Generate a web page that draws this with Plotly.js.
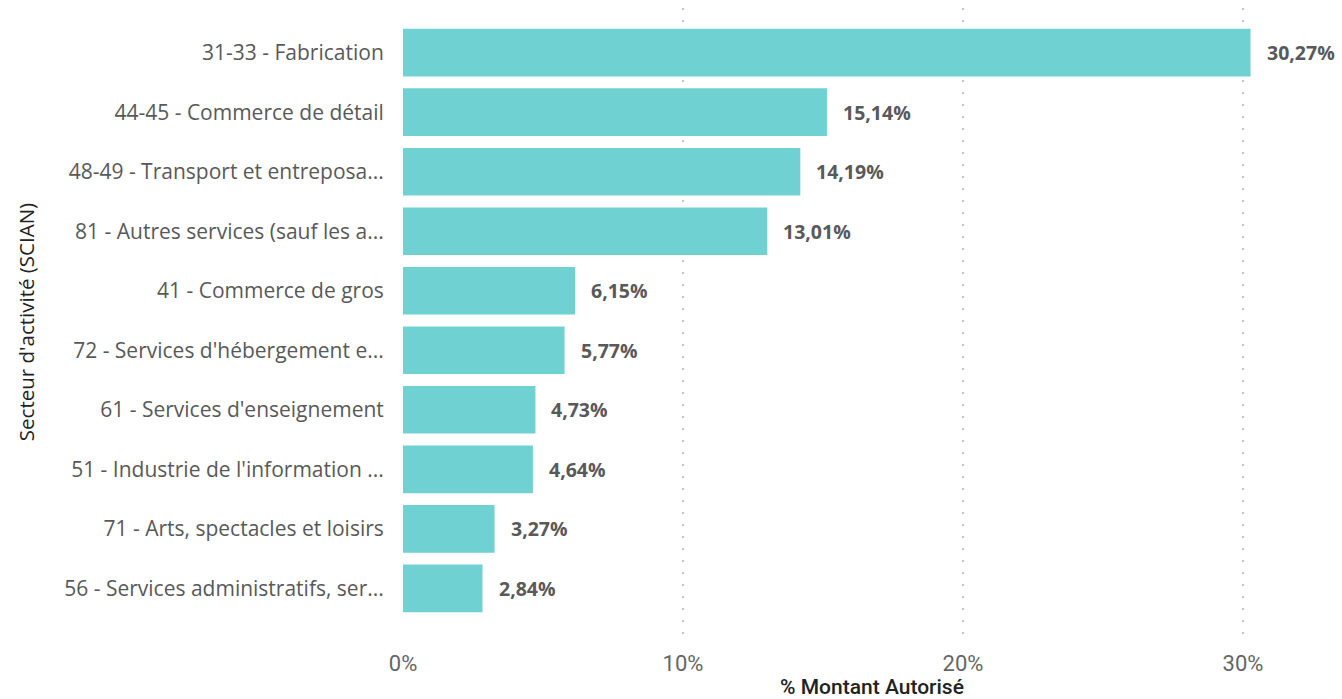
<!DOCTYPE html>
<html>
<head>
<meta charset="utf-8">
<script src="https://cdn.plot.ly/plotly-3.0.1.min.js"></script>
<style>html,body{margin:0;padding:0;background:#fff;}#chart{width:1342px;height:699px;}</style>
</head>
<body>
<div id="chart"></div>
<script>
const categories = [
  "31-33 - Fabrication",
  "44-45 - Commerce de détail",
  "48-49 - Transport et entreposa...",
  "81 - Autres services (sauf les a...",
  "41 - Commerce de gros",
  "72 - Services d'hébergement e...",
  "61 - Services d'enseignement",
  "51 - Industrie de l'information ...",
  "71 - Arts, spectacles et loisirs",
  "56 - Services administratifs, ser..."
];
const values = [30.27, 15.14, 14.19, 13.01, 6.15, 5.77, 4.73, 4.64, 3.27, 2.84];
const valueLabels = ["30,27%", "15,14%", "14,19%", "13,01%", "6,15%", "5,77%", "4,73%", "4,64%", "3,27%", "2,84%"];
const tickValues = [0, 10, 20, 30];
const tickLabels = ["0%", "10%", "20%", "30%"];

const trace = {
  type: 'bar',
  orientation: 'h',
  x: values,
  y: categories,
  marker: {color: '#6FD1D2'},
  hoverinfo: 'none'
};

const annotations = values.map((v, i) => ({
  x: v, y: categories[i], xref: 'x', yref: 'y',
  text: valueLabels[i], showarrow: false,
  xanchor: 'left', xshift: 14,
  font: {family: 'Open Sans, sans-serif', size: 19.5, color: '#595959', weight: 'bold'}
}));

const layout = {
  width: 1342, height: 699,
  margin: {l: 403, r: 1, t: 8, b: 63},
  paper_bgcolor: '#fff', plot_bgcolor: '#fff',
  bargap: 0.2,
  showlegend: false,
  font: {family: 'Open Sans, sans-serif'},
  annotations: annotations,
  xaxis: {
    range: [0, 33.5],
    tickvals: tickValues,
    ticktext: tickLabels,
    showgrid: true,
    gridcolor: '#c4c4c4',
    griddash: '2px,10px',
    gridwidth: 2,
    zeroline: false,
    showline: false,
    ticks: 'outside', ticklen: 8, tickcolor: 'rgba(0,0,0,0)',
    tickfont: {family: 'Roboto, sans-serif', size: 22, color: '#666'},
    title: {text: '% Montant Autorisé', font: {family: 'Roboto, sans-serif', size: 21, color: '#222', weight: 500}, standoff: 2}
  },
  yaxis: {
    type: 'category',
    categoryorder: 'array',
    categoryarray: categories,
    range: [9.8, -0.75],
    showgrid: false,
    zeroline: false,
    showline: false,
    ticks: 'outside', ticklen: 14, tickcolor: 'rgba(0,0,0,0)',
    tickfont: {family: 'Open Sans, sans-serif', size: 21, color: '#595959'},
    title: {text: "Secteur d'activité (SCIAN)", font: {family: 'Open Sans, sans-serif', size: 20.5, color: '#222'}, standoff: 24}
  }
};

Plotly.newPlot('chart', [trace], layout, {displayModeBar: false, staticPlot: true});
</script>
</body>
</html>
